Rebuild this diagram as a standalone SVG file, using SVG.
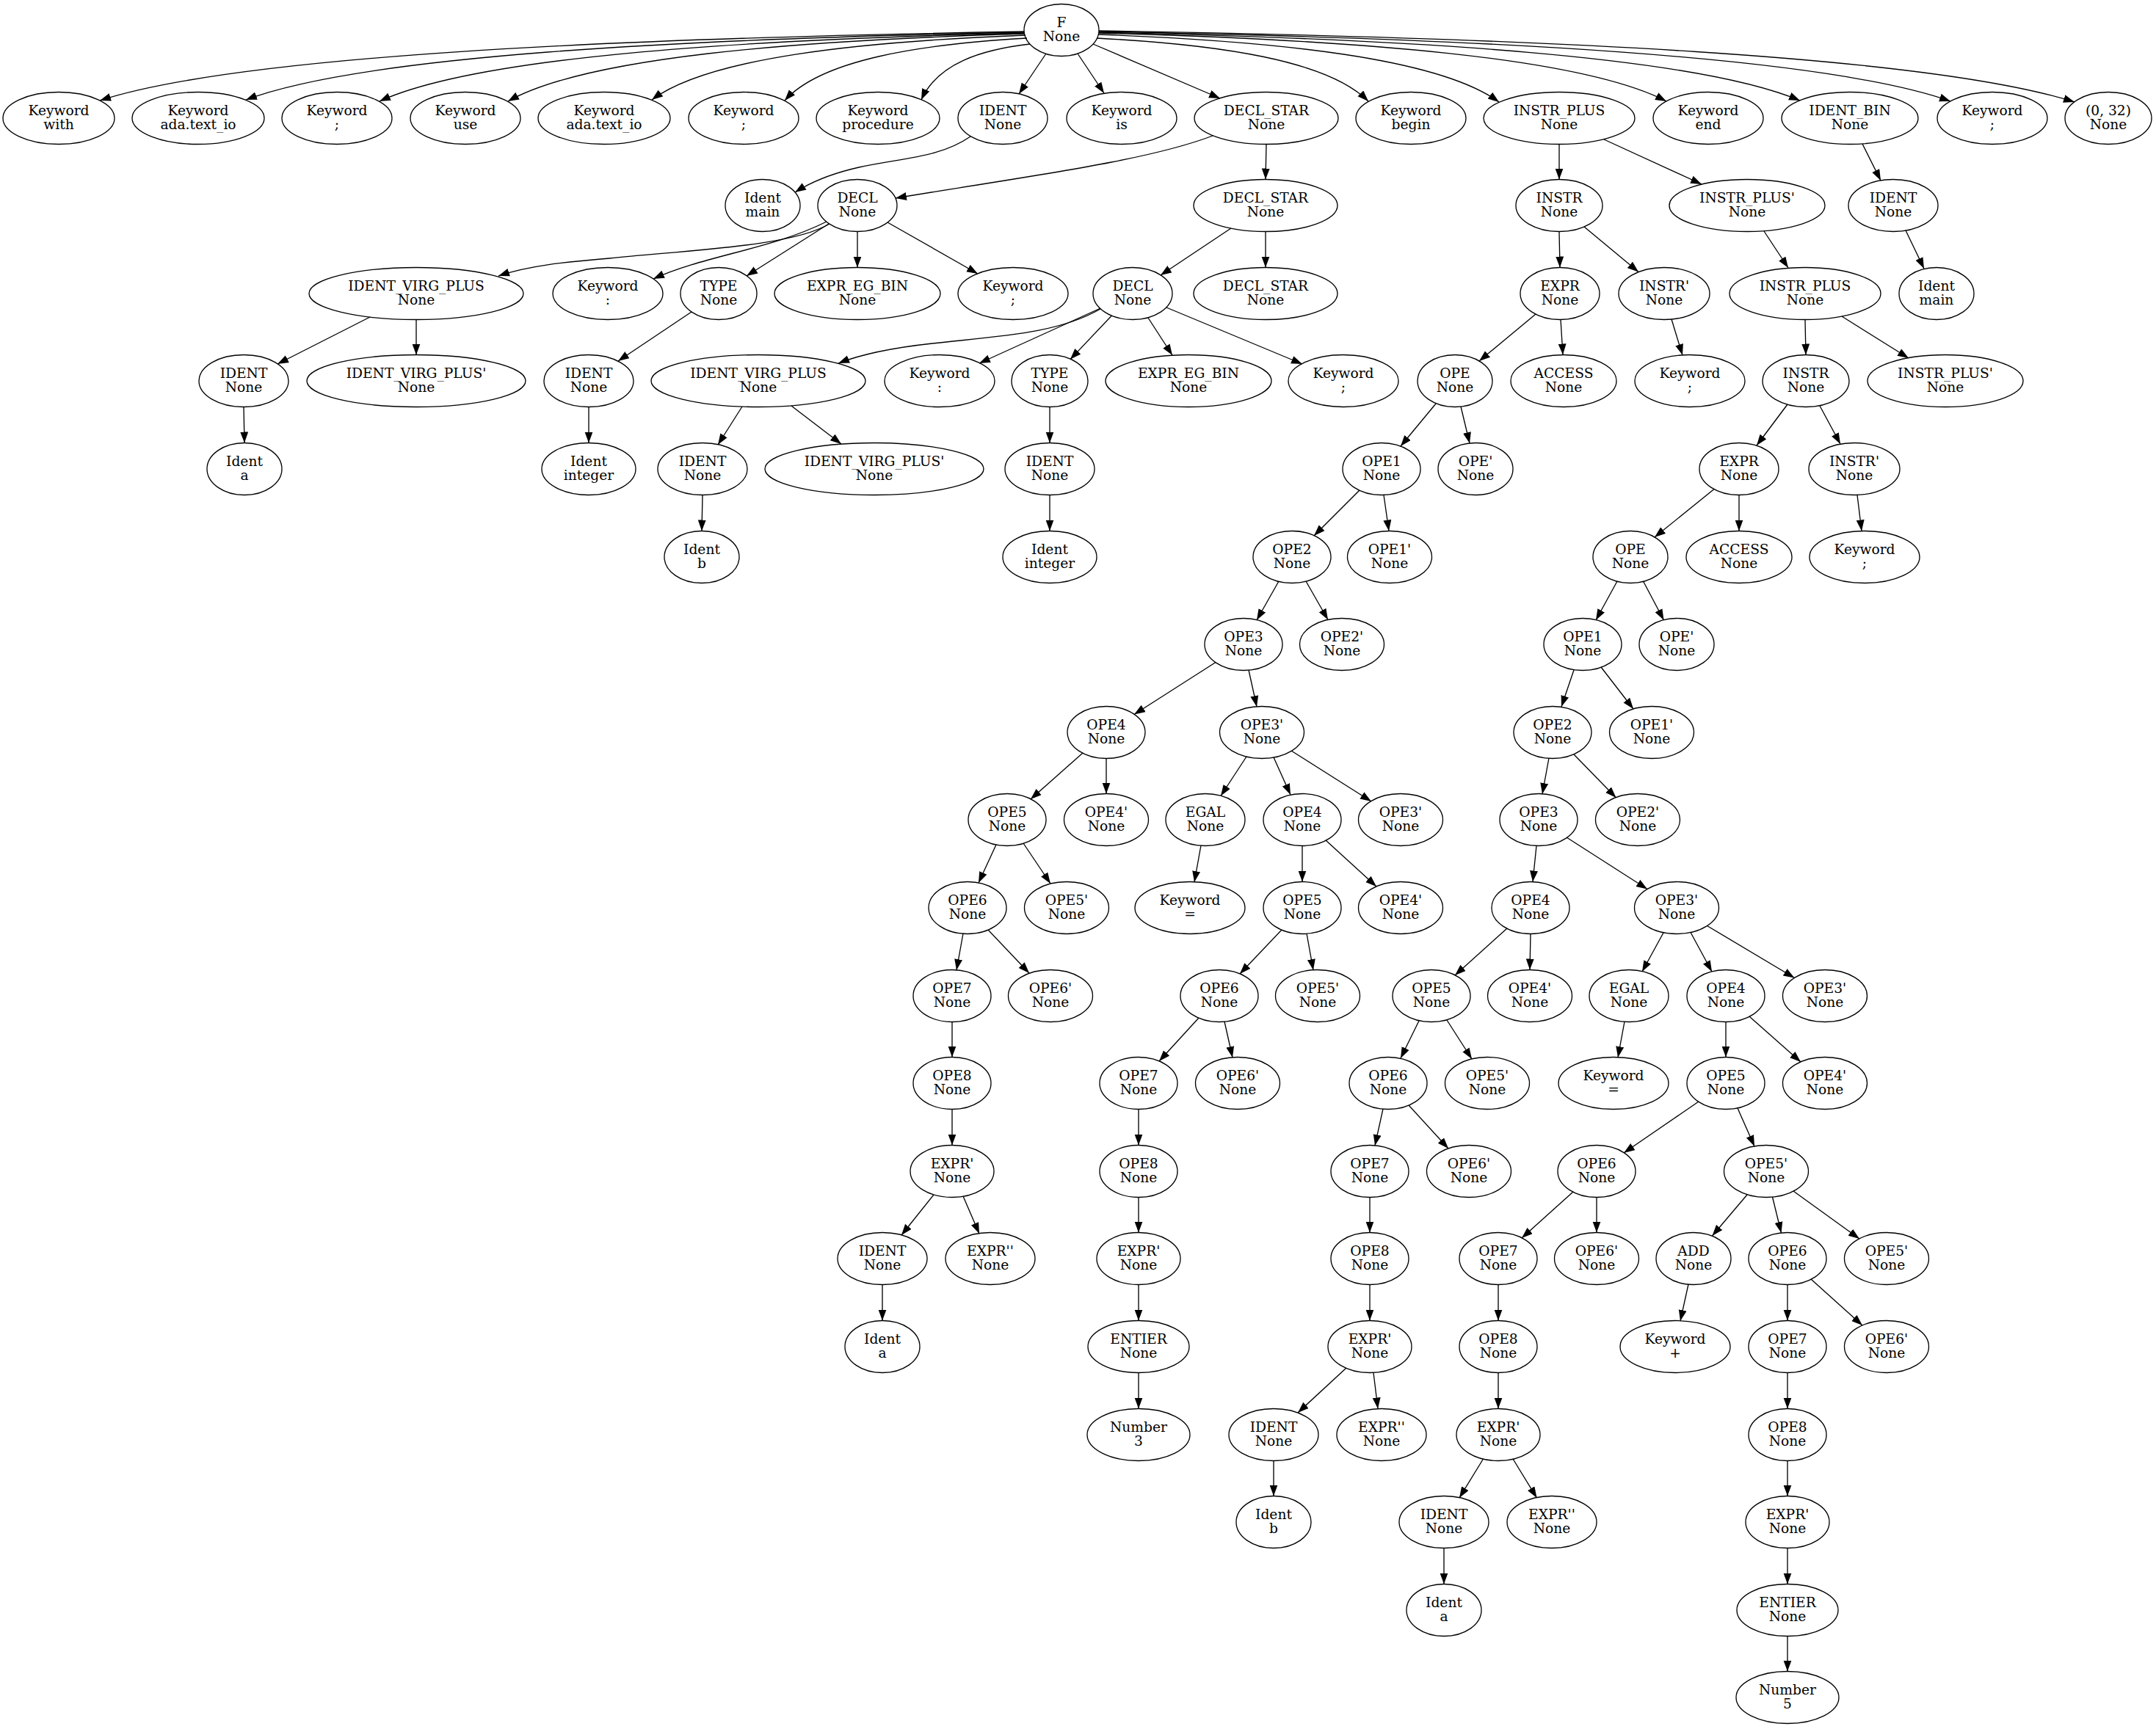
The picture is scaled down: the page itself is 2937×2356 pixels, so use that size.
<svg xmlns="http://www.w3.org/2000/svg" width="2937" height="2356" viewBox="0 0 2937 2356">
<style>
ellipse{fill:none;stroke:#000;stroke-width:1.33}
text{font-family:"DejaVu Serif","Liberation Serif",serif;font-size:18.67px;text-anchor:middle;fill:#000}
.edges path{fill:none;stroke:#000;stroke-width:1.33;marker-end:url(#ah)}
</style>
<defs>
<marker id="ah" markerUnits="userSpaceOnUse" markerWidth="16" markerHeight="12" refX="15" refY="5.5" orient="auto"><path d="M0,0 L15,5.5 L0,11 z" fill="#000"/></marker>
</defs>
<rect width="2937" height="2356" fill="#fff"/>
<g class="edges" id="edges">
<path d="M1395,43 C828.5,52.4 324.9,75.9 136,137"/>
<path d="M1395,44 C918,53.2 494,76.2 335,136"/>
<path d="M1396,45 C1000.5,54.3 648.9,77.6 517,138"/>
<path d="M1396,46 C1079.2,55.2 797.6,78.2 692,138"/>
<path d="M1397,48 C1168,56.8 964.4,78.8 888,136"/>
<path d="M1399,52 C1250.5,60.5 1118.5,81.8 1069,137"/>
<path d="M1403,60 C1336.4,67.6 1277.2,86.6 1255,136"/>
<path d="M1425,73 L1388,128"/>
<path d="M1468,73 L1504,127"/>
<path d="M1489,60 L1662,134"/>
<path d="M1494,52 C1660.5,60.6 1808.5,82.1 1864,138"/>
<path d="M1496,47 C1741.7,56.2 1960.1,79.2 2042,139"/>
<path d="M1497,45 C1844.9,54.3 2154,77.6 2270,138"/>
<path d="M1497,44 C1926.8,53.3 2308.8,76.5 2452,137"/>
<path d="M1497,43 C2019,52.5 2483,76.3 2657,138"/>
<path d="M1497,42 C2095,51.7 2626.7,75.9 2826,139"/>
<path d="M1322,186 C1280,215 1230,215 1170,228 C1130,237 1105,248 1083,262"/>
<path d="M1652,185 C1560,220 1400,240 1220,270"/>
<path d="M1725,196.5 L1724,244.5"/>
<path d="M2124,196.5 L2124,244.5"/>
<path d="M2185,190 L2318,251"/>
<path d="M2537,196 L2562,246"/>
<path d="M1130,305 C1080,335 950,340 830,352 C770,357 720,362 679,376"/>
<path d="M1126,302 C1050,340 960,348 890,380"/>
<path d="M1129,305 L1017,376"/>
<path d="M1168,315.5 L1168,364.5"/>
<path d="M1209,303 L1332,373"/>
<path d="M1677,311 L1581,375"/>
<path d="M1724,315.5 L1724,364.5"/>
<path d="M2124,315.5 L2125,364.5"/>
<path d="M2158,309 L2232,370.5"/>
<path d="M2403,315 L2436,365"/>
<path d="M2596,314 L2621,366"/>
<path d="M504,432 L378,496"/>
<path d="M567,435.5 L567,483.5"/>
<path d="M942,425 L842,492"/>
<path d="M1499,421 C1440,455 1360,458 1270,468 C1215,474 1175,482 1142,495"/>
<path d="M1499,420 L1334,495"/>
<path d="M1514.5,430 L1458,489.6"/>
<path d="M1564,433 L1597,484"/>
<path d="M1589,419 L1774,496"/>
<path d="M2092,428 L2015,492"/>
<path d="M2126,435.5 L2129,483.5"/>
<path d="M2277,435 L2292,484"/>
<path d="M2459,435.5 L2460,483.5"/>
<path d="M2509,431 L2600,488"/>
<path d="M332,554.5 L333,603.5"/>
<path d="M802,554.5 L802,603.5"/>
<path d="M1011,554 L978,606"/>
<path d="M1078,553 L1146,605"/>
<path d="M1430,554.5 L1430,603.5"/>
<path d="M1956,550 L1908,608"/>
<path d="M1990,554 L2002,604"/>
<path d="M2435,551 L2393,607"/>
<path d="M2479,553 L2507,605"/>
<path d="M957,674.5 L956,723.5"/>
<path d="M1430,674.5 L1430,723.5"/>
<path d="M1852,668 L1790,730"/>
<path d="M1885,674.5 L1892,723.5"/>
<path d="M2335,666.5 L2254,732"/>
<path d="M2369,674.5 L2369,723.5"/>
<path d="M2530,674.5 L2536,723.5"/>
<path d="M1742,792 L1712,845"/>
<path d="M1779,792 L1809,844.5"/>
<path d="M2203,792 L2174,845"/>
<path d="M2238.5,792 L2266.5,845"/>
<path d="M1656,902.5 L1545,973.5"/>
<path d="M1701,913 L1712,963"/>
<path d="M2144,913 L2127,963"/>
<path d="M2181,909 L2225,966"/>
<path d="M1475,1026 L1404,1089"/>
<path d="M1507,1033.5 L1507,1081.5"/>
<path d="M1698,1031 L1663,1084.5"/>
<path d="M1735,1032 L1758,1083"/>
<path d="M1759,1023 L1868,1092"/>
<path d="M2110,1033 L2101,1082"/>
<path d="M2144,1028 L2201.5,1087"/>
<path d="M1357,1151 L1333,1203"/>
<path d="M1394,1149 L1431,1204"/>
<path d="M1636,1152 L1627,1202"/>
<path d="M1774,1152.5 L1774,1201.5"/>
<path d="M1806,1145 L1875,1208"/>
<path d="M2093,1152.5 L2088,1201.5"/>
<path d="M2134,1141 L2244,1211.5"/>
<path d="M1312,1272 L1303,1322"/>
<path d="M1346,1267 L1402,1326"/>
<path d="M1746,1267 L1689,1327"/>
<path d="M1780,1272 L1789,1322"/>
<path d="M2053,1265 L1982,1329"/>
<path d="M2085,1272.5 L2084,1321.5"/>
<path d="M2266,1271 L2237,1324"/>
<path d="M2303,1270.5 L2332,1324"/>
<path d="M2325.5,1261.5 L2444.5,1332.5"/>
<path d="M1297,1392.5 L1297,1440.5"/>
<path d="M1633,1387 L1579,1446"/>
<path d="M1668,1392 L1679,1441"/>
<path d="M1933,1391 L1908,1442"/>
<path d="M1971,1390 L2005,1443"/>
<path d="M2213,1392 L2204,1441"/>
<path d="M2351,1392.5 L2351,1440.5"/>
<path d="M2383,1385 L2453,1447"/>
<path d="M1297,1511.5 L1297,1560.5"/>
<path d="M1551,1511.5 L1551,1560.5"/>
<path d="M1884,1511 L1873,1561"/>
<path d="M1919,1506 L1973,1565"/>
<path d="M2314,1501 L2212,1571"/>
<path d="M2367,1510 L2390,1562"/>
<path d="M1272,1628 L1228,1683"/>
<path d="M1312,1630 L1334,1681"/>
<path d="M1551,1631.5 L1551,1679.5"/>
<path d="M1866,1631.5 L1866,1679.5"/>
<path d="M2143,1624 L2073,1687"/>
<path d="M2175,1631.5 L2175,1679.5"/>
<path d="M2380,1628 L2332.5,1684"/>
<path d="M2414.5,1631 L2426.5,1680"/>
<path d="M2443,1623 L2533,1688"/>
<path d="M1202,1750.5 L1202,1799.5"/>
<path d="M1551,1750.5 L1551,1799.5"/>
<path d="M1866,1750.5 L1866,1799.5"/>
<path d="M2041,1750.5 L2041,1799.5"/>
<path d="M2300,1750 L2289,1800"/>
<path d="M2435,1750.5 L2435,1799.5"/>
<path d="M2467,1743 L2537,1806"/>
<path d="M1551,1870.5 L1551,1919.5"/>
<path d="M1834,1864 L1768,1925"/>
<path d="M1871,1870.5 L1877,1919.5"/>
<path d="M2041,1870.5 L2041,1919.5"/>
<path d="M2435,1870.5 L2435,1919.5"/>
<path d="M1735,1990.5 L1735,2038.5"/>
<path d="M2020.5,1988 L1988,2041"/>
<path d="M2061,1988 L2093.5,2041"/>
<path d="M2435,1990.5 L2435,2038.5"/>
<path d="M1967,2109.5 L1967,2158.5"/>
<path d="M2435,2109.5 L2435,2158.5"/>
<path d="M2435,2229.5 L2435,2277.5"/>
</g>
<g id="n0"><ellipse cx="1446" cy="41" rx="51" ry="35.5"/><text x="1446" y="37">F</text><text x="1446" y="56">None</text></g>
<g id="n1"><ellipse cx="80" cy="161" rx="76" ry="35.5"/><text x="80" y="157">Keyword</text><text x="80" y="176">with</text></g>
<g id="n2"><ellipse cx="270" cy="161" rx="90" ry="35.5"/><text x="270" y="157">Keyword</text><text x="270" y="176">ada.text_io</text></g>
<g id="n3"><ellipse cx="459" cy="161" rx="75" ry="35.5"/><text x="459" y="157">Keyword</text><text x="459" y="176">;</text></g>
<g id="n4"><ellipse cx="634" cy="161" rx="75" ry="35.5"/><text x="634" y="157">Keyword</text><text x="634" y="176">use</text></g>
<g id="n5"><ellipse cx="823" cy="161" rx="90" ry="35.5"/><text x="823" y="157">Keyword</text><text x="823" y="176">ada.text_io</text></g>
<g id="n6"><ellipse cx="1013" cy="161" rx="75" ry="35.5"/><text x="1013" y="157">Keyword</text><text x="1013" y="176">;</text></g>
<g id="n7"><ellipse cx="1196" cy="161" rx="84" ry="35.5"/><text x="1196" y="157">Keyword</text><text x="1196" y="176">procedure</text></g>
<g id="n8"><ellipse cx="1366" cy="161" rx="61" ry="35.5"/><text x="1366" y="157">IDENT</text><text x="1366" y="176">None</text></g>
<g id="n9"><ellipse cx="1528" cy="161" rx="75" ry="35.5"/><text x="1528" y="157">Keyword</text><text x="1528" y="176">is</text></g>
<g id="n10"><ellipse cx="1725" cy="161" rx="98" ry="35.5"/><text x="1725" y="157">DECL_STAR</text><text x="1725" y="176">None</text></g>
<g id="n11"><ellipse cx="1922" cy="161" rx="75" ry="35.5"/><text x="1922" y="157">Keyword</text><text x="1922" y="176">begin</text></g>
<g id="n12"><ellipse cx="2124" cy="161" rx="103" ry="35.5"/><text x="2124" y="157">INSTR_PLUS</text><text x="2124" y="176">None</text></g>
<g id="n13"><ellipse cx="2327" cy="161" rx="75" ry="35.5"/><text x="2327" y="157">Keyword</text><text x="2327" y="176">end</text></g>
<g id="n14"><ellipse cx="2520" cy="161" rx="93" ry="35.5"/><text x="2520" y="157">IDENT_BIN</text><text x="2520" y="176">None</text></g>
<g id="n15"><ellipse cx="2714" cy="161" rx="75" ry="35.5"/><text x="2714" y="157">Keyword</text><text x="2714" y="176">;</text></g>
<g id="n16"><ellipse cx="2872" cy="161" rx="59" ry="35.5"/><text x="2872" y="157">(0, 32)</text><text x="2872" y="176">None</text></g>
<g id="n17"><ellipse cx="1039" cy="280" rx="51" ry="35.5"/><text x="1039" y="276">Ident</text><text x="1039" y="295">main</text></g>
<g id="n18"><ellipse cx="1168" cy="280" rx="54" ry="35.5"/><text x="1168" y="276">DECL</text><text x="1168" y="295">None</text></g>
<g id="n19"><ellipse cx="1724" cy="280" rx="98" ry="35.5"/><text x="1724" y="276">DECL_STAR</text><text x="1724" y="295">None</text></g>
<g id="n20"><ellipse cx="2124" cy="280" rx="59" ry="35.5"/><text x="2124" y="276">INSTR</text><text x="2124" y="295">None</text></g>
<g id="n21"><ellipse cx="2380" cy="280" rx="106" ry="35.5"/><text x="2380" y="276">INSTR_PLUS'</text><text x="2380" y="295">None</text></g>
<g id="n22"><ellipse cx="2579" cy="280" rx="61" ry="35.5"/><text x="2579" y="276">IDENT</text><text x="2579" y="295">None</text></g>
<g id="n23"><ellipse cx="567" cy="400" rx="146" ry="35.5"/><text x="567" y="396">IDENT_VIRG_PLUS</text><text x="567" y="415">None</text></g>
<g id="n24"><ellipse cx="828" cy="400" rx="75" ry="35.5"/><text x="828" y="396">Keyword</text><text x="828" y="415">:</text></g>
<g id="n25"><ellipse cx="979" cy="400" rx="52" ry="35.5"/><text x="979" y="396">TYPE</text><text x="979" y="415">None</text></g>
<g id="n26"><ellipse cx="1168" cy="400" rx="113" ry="35.5"/><text x="1168" y="396">EXPR_EG_BIN</text><text x="1168" y="415">None</text></g>
<g id="n27"><ellipse cx="1380" cy="400" rx="75" ry="35.5"/><text x="1380" y="396">Keyword</text><text x="1380" y="415">;</text></g>
<g id="n28"><ellipse cx="1543" cy="400" rx="54" ry="35.5"/><text x="1543" y="396">DECL</text><text x="1543" y="415">None</text></g>
<g id="n29"><ellipse cx="1724" cy="400" rx="98" ry="35.5"/><text x="1724" y="396">DECL_STAR</text><text x="1724" y="415">None</text></g>
<g id="n30"><ellipse cx="2125" cy="400" rx="54" ry="35.5"/><text x="2125" y="396">EXPR</text><text x="2125" y="415">None</text></g>
<g id="n31"><ellipse cx="2267" cy="400" rx="62" ry="35.5"/><text x="2267" y="396">INSTR'</text><text x="2267" y="415">None</text></g>
<g id="n32"><ellipse cx="2459" cy="400" rx="103" ry="35.5"/><text x="2459" y="396">INSTR_PLUS</text><text x="2459" y="415">None</text></g>
<g id="n33"><ellipse cx="2638" cy="400" rx="51" ry="35.5"/><text x="2638" y="396">Ident</text><text x="2638" y="415">main</text></g>
<g id="n34"><ellipse cx="332" cy="519" rx="61" ry="35.5"/><text x="332" y="515">IDENT</text><text x="332" y="534">None</text></g>
<g id="n35"><ellipse cx="567" cy="519" rx="149" ry="35.5"/><text x="567" y="515">IDENT_VIRG_PLUS'</text><text x="567" y="534">None</text></g>
<g id="n36"><ellipse cx="802" cy="519" rx="61" ry="35.5"/><text x="802" y="515">IDENT</text><text x="802" y="534">None</text></g>
<g id="n37"><ellipse cx="1033" cy="519" rx="146" ry="35.5"/><text x="1033" y="515">IDENT_VIRG_PLUS</text><text x="1033" y="534">None</text></g>
<g id="n38"><ellipse cx="1280" cy="519" rx="75" ry="35.5"/><text x="1280" y="515">Keyword</text><text x="1280" y="534">:</text></g>
<g id="n39"><ellipse cx="1430" cy="519" rx="52" ry="35.5"/><text x="1430" y="515">TYPE</text><text x="1430" y="534">None</text></g>
<g id="n40"><ellipse cx="1619" cy="519" rx="113" ry="35.5"/><text x="1619" y="515">EXPR_EG_BIN</text><text x="1619" y="534">None</text></g>
<g id="n41"><ellipse cx="1830" cy="519" rx="75" ry="35.5"/><text x="1830" y="515">Keyword</text><text x="1830" y="534">;</text></g>
<g id="n42"><ellipse cx="1982" cy="519" rx="51" ry="35.5"/><text x="1982" y="515">OPE</text><text x="1982" y="534">None</text></g>
<g id="n43"><ellipse cx="2130" cy="519" rx="72" ry="35.5"/><text x="2130" y="515">ACCESS</text><text x="2130" y="534">None</text></g>
<g id="n44"><ellipse cx="2302" cy="519" rx="75" ry="35.5"/><text x="2302" y="515">Keyword</text><text x="2302" y="534">;</text></g>
<g id="n45"><ellipse cx="2460" cy="519" rx="59" ry="35.5"/><text x="2460" y="515">INSTR</text><text x="2460" y="534">None</text></g>
<g id="n46"><ellipse cx="2650" cy="519" rx="106" ry="35.5"/><text x="2650" y="515">INSTR_PLUS'</text><text x="2650" y="534">None</text></g>
<g id="n47"><ellipse cx="333" cy="639" rx="51" ry="35.5"/><text x="333" y="635">Ident</text><text x="333" y="654">a</text></g>
<g id="n48"><ellipse cx="802" cy="639" rx="64" ry="35.5"/><text x="802" y="635">Ident</text><text x="802" y="654">integer</text></g>
<g id="n49"><ellipse cx="957" cy="639" rx="61" ry="35.5"/><text x="957" y="635">IDENT</text><text x="957" y="654">None</text></g>
<g id="n50"><ellipse cx="1191" cy="639" rx="149" ry="35.5"/><text x="1191" y="635">IDENT_VIRG_PLUS'</text><text x="1191" y="654">None</text></g>
<g id="n51"><ellipse cx="1430" cy="639" rx="61" ry="35.5"/><text x="1430" y="635">IDENT</text><text x="1430" y="654">None</text></g>
<g id="n52"><ellipse cx="1882" cy="639" rx="53" ry="35.5"/><text x="1882" y="635">OPE1</text><text x="1882" y="654">None</text></g>
<g id="n53"><ellipse cx="2010" cy="639" rx="51" ry="35.5"/><text x="2010" y="635">OPE'</text><text x="2010" y="654">None</text></g>
<g id="n54"><ellipse cx="2369" cy="639" rx="54" ry="35.5"/><text x="2369" y="635">EXPR</text><text x="2369" y="654">None</text></g>
<g id="n55"><ellipse cx="2526" cy="639" rx="62" ry="35.5"/><text x="2526" y="635">INSTR'</text><text x="2526" y="654">None</text></g>
<g id="n56"><ellipse cx="956" cy="759" rx="51" ry="35.5"/><text x="956" y="755">Ident</text><text x="956" y="774">b</text></g>
<g id="n57"><ellipse cx="1430" cy="759" rx="64" ry="35.5"/><text x="1430" y="755">Ident</text><text x="1430" y="774">integer</text></g>
<g id="n58"><ellipse cx="1760" cy="759" rx="53" ry="35.5"/><text x="1760" y="755">OPE2</text><text x="1760" y="774">None</text></g>
<g id="n59"><ellipse cx="1893" cy="759" rx="57.5" ry="35.5"/><text x="1893" y="755">OPE1'</text><text x="1893" y="774">None</text></g>
<g id="n60"><ellipse cx="2221" cy="759" rx="51" ry="35.5"/><text x="2221" y="755">OPE</text><text x="2221" y="774">None</text></g>
<g id="n61"><ellipse cx="2369" cy="759" rx="72" ry="35.5"/><text x="2369" y="755">ACCESS</text><text x="2369" y="774">None</text></g>
<g id="n62"><ellipse cx="2540" cy="759" rx="75" ry="35.5"/><text x="2540" y="755">Keyword</text><text x="2540" y="774">;</text></g>
<g id="n63"><ellipse cx="1694" cy="878" rx="53" ry="35.5"/><text x="1694" y="874">OPE3</text><text x="1694" y="893">None</text></g>
<g id="n64"><ellipse cx="1828" cy="878" rx="57.5" ry="35.5"/><text x="1828" y="874">OPE2'</text><text x="1828" y="893">None</text></g>
<g id="n65"><ellipse cx="2156" cy="878" rx="53" ry="35.5"/><text x="2156" y="874">OPE1</text><text x="2156" y="893">None</text></g>
<g id="n66"><ellipse cx="2284" cy="878" rx="51" ry="35.5"/><text x="2284" y="874">OPE'</text><text x="2284" y="893">None</text></g>
<g id="n67"><ellipse cx="1507" cy="998" rx="53" ry="35.5"/><text x="1507" y="994">OPE4</text><text x="1507" y="1013">None</text></g>
<g id="n68"><ellipse cx="1719" cy="998" rx="57.5" ry="35.5"/><text x="1719" y="994">OPE3'</text><text x="1719" y="1013">None</text></g>
<g id="n69"><ellipse cx="2115" cy="998" rx="53" ry="35.5"/><text x="2115" y="994">OPE2</text><text x="2115" y="1013">None</text></g>
<g id="n70"><ellipse cx="2250" cy="998" rx="57.5" ry="35.5"/><text x="2250" y="994">OPE1'</text><text x="2250" y="1013">None</text></g>
<g id="n71"><ellipse cx="1372" cy="1117" rx="53" ry="35.5"/><text x="1372" y="1113">OPE5</text><text x="1372" y="1132">None</text></g>
<g id="n72"><ellipse cx="1507" cy="1117" rx="57.5" ry="35.5"/><text x="1507" y="1113">OPE4'</text><text x="1507" y="1132">None</text></g>
<g id="n73"><ellipse cx="1642" cy="1117" rx="54" ry="35.5"/><text x="1642" y="1113">EGAL</text><text x="1642" y="1132">None</text></g>
<g id="n74"><ellipse cx="1774" cy="1117" rx="53" ry="35.5"/><text x="1774" y="1113">OPE4</text><text x="1774" y="1132">None</text></g>
<g id="n75"><ellipse cx="1908" cy="1117" rx="57.5" ry="35.5"/><text x="1908" y="1113">OPE3'</text><text x="1908" y="1132">None</text></g>
<g id="n76"><ellipse cx="2096" cy="1117" rx="53" ry="35.5"/><text x="2096" y="1113">OPE3</text><text x="2096" y="1132">None</text></g>
<g id="n77"><ellipse cx="2231" cy="1117" rx="57.5" ry="35.5"/><text x="2231" y="1113">OPE2'</text><text x="2231" y="1132">None</text></g>
<g id="n78"><ellipse cx="1318" cy="1237" rx="53" ry="35.5"/><text x="1318" y="1233">OPE6</text><text x="1318" y="1252">None</text></g>
<g id="n79"><ellipse cx="1453" cy="1237" rx="57.5" ry="35.5"/><text x="1453" y="1233">OPE5'</text><text x="1453" y="1252">None</text></g>
<g id="n80"><ellipse cx="1621" cy="1237" rx="75" ry="35.5"/><text x="1621" y="1233">Keyword</text><text x="1621" y="1252">=</text></g>
<g id="n81"><ellipse cx="1774" cy="1237" rx="53" ry="35.5"/><text x="1774" y="1233">OPE5</text><text x="1774" y="1252">None</text></g>
<g id="n82"><ellipse cx="1908" cy="1237" rx="57.5" ry="35.5"/><text x="1908" y="1233">OPE4'</text><text x="1908" y="1252">None</text></g>
<g id="n83"><ellipse cx="2085" cy="1237" rx="53" ry="35.5"/><text x="2085" y="1233">OPE4</text><text x="2085" y="1252">None</text></g>
<g id="n84"><ellipse cx="2284" cy="1237" rx="57.5" ry="35.5"/><text x="2284" y="1233">OPE3'</text><text x="2284" y="1252">None</text></g>
<g id="n85"><ellipse cx="1297" cy="1357" rx="53" ry="35.5"/><text x="1297" y="1353">OPE7</text><text x="1297" y="1372">None</text></g>
<g id="n86"><ellipse cx="1431" cy="1357" rx="57.5" ry="35.5"/><text x="1431" y="1353">OPE6'</text><text x="1431" y="1372">None</text></g>
<g id="n87"><ellipse cx="1661" cy="1357" rx="53" ry="35.5"/><text x="1661" y="1353">OPE6</text><text x="1661" y="1372">None</text></g>
<g id="n88"><ellipse cx="1795" cy="1357" rx="57.5" ry="35.5"/><text x="1795" y="1353">OPE5'</text><text x="1795" y="1372">None</text></g>
<g id="n89"><ellipse cx="1950" cy="1357" rx="53" ry="35.5"/><text x="1950" y="1353">OPE5</text><text x="1950" y="1372">None</text></g>
<g id="n90"><ellipse cx="2084" cy="1357" rx="57.5" ry="35.5"/><text x="2084" y="1353">OPE4'</text><text x="2084" y="1372">None</text></g>
<g id="n91"><ellipse cx="2219" cy="1357" rx="54" ry="35.5"/><text x="2219" y="1353">EGAL</text><text x="2219" y="1372">None</text></g>
<g id="n92"><ellipse cx="2351" cy="1357" rx="53" ry="35.5"/><text x="2351" y="1353">OPE4</text><text x="2351" y="1372">None</text></g>
<g id="n93"><ellipse cx="2486" cy="1357" rx="57.5" ry="35.5"/><text x="2486" y="1353">OPE3'</text><text x="2486" y="1372">None</text></g>
<g id="n94"><ellipse cx="1297" cy="1476" rx="53" ry="35.5"/><text x="1297" y="1472">OPE8</text><text x="1297" y="1491">None</text></g>
<g id="n95"><ellipse cx="1551" cy="1476" rx="53" ry="35.5"/><text x="1551" y="1472">OPE7</text><text x="1551" y="1491">None</text></g>
<g id="n96"><ellipse cx="1686" cy="1476" rx="57.5" ry="35.5"/><text x="1686" y="1472">OPE6'</text><text x="1686" y="1491">None</text></g>
<g id="n97"><ellipse cx="1891" cy="1476" rx="53" ry="35.5"/><text x="1891" y="1472">OPE6</text><text x="1891" y="1491">None</text></g>
<g id="n98"><ellipse cx="2026" cy="1476" rx="57.5" ry="35.5"/><text x="2026" y="1472">OPE5'</text><text x="2026" y="1491">None</text></g>
<g id="n99"><ellipse cx="2198" cy="1476" rx="75" ry="35.5"/><text x="2198" y="1472">Keyword</text><text x="2198" y="1491">=</text></g>
<g id="n100"><ellipse cx="2351" cy="1476" rx="53" ry="35.5"/><text x="2351" y="1472">OPE5</text><text x="2351" y="1491">None</text></g>
<g id="n101"><ellipse cx="2486" cy="1476" rx="57.5" ry="35.5"/><text x="2486" y="1472">OPE4'</text><text x="2486" y="1491">None</text></g>
<g id="n102"><ellipse cx="1297" cy="1596" rx="57" ry="35.5"/><text x="1297" y="1592">EXPR'</text><text x="1297" y="1611">None</text></g>
<g id="n103"><ellipse cx="1551" cy="1596" rx="53" ry="35.5"/><text x="1551" y="1592">OPE8</text><text x="1551" y="1611">None</text></g>
<g id="n104"><ellipse cx="1866" cy="1596" rx="53" ry="35.5"/><text x="1866" y="1592">OPE7</text><text x="1866" y="1611">None</text></g>
<g id="n105"><ellipse cx="2001" cy="1596" rx="57.5" ry="35.5"/><text x="2001" y="1592">OPE6'</text><text x="2001" y="1611">None</text></g>
<g id="n106"><ellipse cx="2175" cy="1596" rx="53" ry="35.5"/><text x="2175" y="1592">OPE6</text><text x="2175" y="1611">None</text></g>
<g id="n107"><ellipse cx="2406" cy="1596" rx="57.5" ry="35.5"/><text x="2406" y="1592">OPE5'</text><text x="2406" y="1611">None</text></g>
<g id="n108"><ellipse cx="1202" cy="1715" rx="61" ry="35.5"/><text x="1202" y="1711">IDENT</text><text x="1202" y="1730">None</text></g>
<g id="n109"><ellipse cx="1349" cy="1715" rx="61" ry="35.5"/><text x="1349" y="1711">EXPR''</text><text x="1349" y="1730">None</text></g>
<g id="n110"><ellipse cx="1551" cy="1715" rx="57" ry="35.5"/><text x="1551" y="1711">EXPR'</text><text x="1551" y="1730">None</text></g>
<g id="n111"><ellipse cx="1866" cy="1715" rx="53" ry="35.5"/><text x="1866" y="1711">OPE8</text><text x="1866" y="1730">None</text></g>
<g id="n112"><ellipse cx="2041" cy="1715" rx="53" ry="35.5"/><text x="2041" y="1711">OPE7</text><text x="2041" y="1730">None</text></g>
<g id="n113"><ellipse cx="2175" cy="1715" rx="57.5" ry="35.5"/><text x="2175" y="1711">OPE6'</text><text x="2175" y="1730">None</text></g>
<g id="n114"><ellipse cx="2307" cy="1715" rx="51" ry="35.5"/><text x="2307" y="1711">ADD</text><text x="2307" y="1730">None</text></g>
<g id="n115"><ellipse cx="2435" cy="1715" rx="53" ry="35.5"/><text x="2435" y="1711">OPE6</text><text x="2435" y="1730">None</text></g>
<g id="n116"><ellipse cx="2570" cy="1715" rx="57.5" ry="35.5"/><text x="2570" y="1711">OPE5'</text><text x="2570" y="1730">None</text></g>
<g id="n117"><ellipse cx="1202" cy="1835" rx="51" ry="35.5"/><text x="1202" y="1831">Ident</text><text x="1202" y="1850">a</text></g>
<g id="n118"><ellipse cx="1551" cy="1835" rx="69" ry="35.5"/><text x="1551" y="1831">ENTIER</text><text x="1551" y="1850">None</text></g>
<g id="n119"><ellipse cx="1866" cy="1835" rx="57" ry="35.5"/><text x="1866" y="1831">EXPR'</text><text x="1866" y="1850">None</text></g>
<g id="n120"><ellipse cx="2041" cy="1835" rx="53" ry="35.5"/><text x="2041" y="1831">OPE8</text><text x="2041" y="1850">None</text></g>
<g id="n121"><ellipse cx="2282" cy="1835" rx="75" ry="35.5"/><text x="2282" y="1831">Keyword</text><text x="2282" y="1850">+</text></g>
<g id="n122"><ellipse cx="2435" cy="1835" rx="53" ry="35.5"/><text x="2435" y="1831">OPE7</text><text x="2435" y="1850">None</text></g>
<g id="n123"><ellipse cx="2570" cy="1835" rx="57.5" ry="35.5"/><text x="2570" y="1831">OPE6'</text><text x="2570" y="1850">None</text></g>
<g id="n124"><ellipse cx="1551" cy="1955" rx="70" ry="35.5"/><text x="1551" y="1951">Number</text><text x="1551" y="1970">3</text></g>
<g id="n125"><ellipse cx="1735" cy="1955" rx="61" ry="35.5"/><text x="1735" y="1951">IDENT</text><text x="1735" y="1970">None</text></g>
<g id="n126"><ellipse cx="1882" cy="1955" rx="61" ry="35.5"/><text x="1882" y="1951">EXPR''</text><text x="1882" y="1970">None</text></g>
<g id="n127"><ellipse cx="2041" cy="1955" rx="57" ry="35.5"/><text x="2041" y="1951">EXPR'</text><text x="2041" y="1970">None</text></g>
<g id="n128"><ellipse cx="2435" cy="1955" rx="53" ry="35.5"/><text x="2435" y="1951">OPE8</text><text x="2435" y="1970">None</text></g>
<g id="n129"><ellipse cx="1735" cy="2074" rx="51" ry="35.5"/><text x="1735" y="2070">Ident</text><text x="1735" y="2089">b</text></g>
<g id="n130"><ellipse cx="1967" cy="2074" rx="61" ry="35.5"/><text x="1967" y="2070">IDENT</text><text x="1967" y="2089">None</text></g>
<g id="n131"><ellipse cx="2114" cy="2074" rx="61" ry="35.5"/><text x="2114" y="2070">EXPR''</text><text x="2114" y="2089">None</text></g>
<g id="n132"><ellipse cx="2435" cy="2074" rx="57" ry="35.5"/><text x="2435" y="2070">EXPR'</text><text x="2435" y="2089">None</text></g>
<g id="n133"><ellipse cx="1967" cy="2194" rx="51" ry="35.5"/><text x="1967" y="2190">Ident</text><text x="1967" y="2209">a</text></g>
<g id="n134"><ellipse cx="2435" cy="2194" rx="69" ry="35.5"/><text x="2435" y="2190">ENTIER</text><text x="2435" y="2209">None</text></g>
<g id="n135"><ellipse cx="2435" cy="2313" rx="70" ry="35.5"/><text x="2435" y="2309">Number</text><text x="2435" y="2328">5</text></g>
</svg>
